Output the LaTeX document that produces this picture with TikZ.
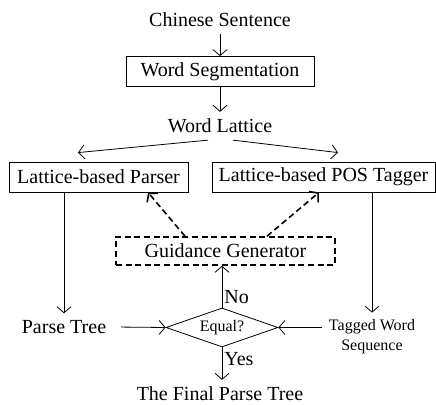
\documentclass[tikz,border=0pt]{standalone}
\usepackage{fontspec}
\setmainfont{Liberation Serif}
\usetikzlibrary{arrows}
\usetikzlibrary{arrows.meta}
\usetikzlibrary{positioning}
\usetikzlibrary{shapes.geometric}

\begin{document}
\begin{tikzpicture}[x=0.5pt, y=-0.5pt,
    every node/.style={font=\fontsize{10}{12}\selectfont},
    smalltext/.style={font=\fontsize{8}{10}\selectfont},
    procbox/.style={draw, rectangle, minimum height=15pt, inner sep=2pt},
    guidebox/.style={draw, rectangle, thick, dash pattern=on 3pt off 1.8pt, minimum height=14pt, inner sep=2pt},
    testnode/.style={draw, diamond, aspect=2.9, inner sep=0pt, minimum width=56pt, minimum height=19.5pt},
    flow/.style={-{Straight Barb[length=3pt,width=7pt]}},
    guide/.style={-{Straight Barb[length=3pt,width=7pt]}, thick, dash pattern=on 3pt off 1.8pt}]
  \useasboundingbox (0,0) rectangle (436,405);

  \node (sent)    at (220,20)  {Chinese Sentence};
  \node[procbox, minimum width=94pt] (seg) at (220,71.5) {Word Segmentation};
  \node (lattice) at (220,126) {Word Lattice};

  \node[procbox, minimum width=89.5pt]  (parser) at (98.5,177)  {Lattice-based Parser};
  \node[procbox, minimum width=111.5pt] (tagger) at (323.5,177) {Lattice-based POS Tagger};

  \node[guidebox, minimum width=109.5pt] (gen) at (225.5,251) {Guidance Generator};

  \node[testnode, smalltext] (equal) at (222,327.5) {Equal?};
  \node (ptree) at (64,327) {Parse Tree};
  \node[smalltext, align=center] (tagged) at (372,337) {Tagged Word\\Sequence};
  \node (final) at (220,394) {The Final Parse Tree};

  \draw[flow] (sent) -- (seg);
  \draw[flow] (seg) -- (lattice);
  \draw[flow] ([xshift=-6pt]lattice.south) -- ([xshift=-10.25pt,yshift=4.5pt]parser.north);
  \draw[flow] ([xshift=6.5pt]lattice.south) -- ([xshift=7.25pt,yshift=4.5pt]tagger.north);

  \draw[guide] ([xshift=-20.25pt]gen.north) -- ([xshift=24.75pt]parser.south);
  \draw[guide] ([xshift=20.75pt]gen.north) -- ([xshift=-2.25pt]tagger.south);

  \draw[flow] (parser.south -| ptree) -- (ptree);
  \draw[flow] (tagger.south -| tagged) -- (tagged);
  \draw[flow, shorten <=4pt] (ptree.east) -- (equal.west);
  \draw[flow] (tagged.west |- equal) -- (equal.east);

  \draw[flow] (equal.north) -- node[right, pos=0.26, inner sep=1pt] {No} (gen.south -| equal);
  \draw[flow] (equal.south) -- node[right, pos=0.36, inner sep=1pt] {Yes} (final.north -| equal);
\end{tikzpicture}
\end{document}
